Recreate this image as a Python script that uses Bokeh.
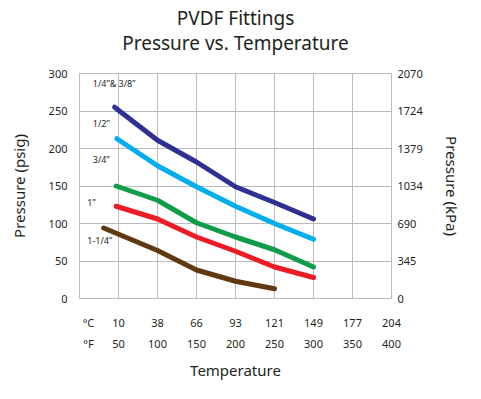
from bokeh.plotting import figure
from bokeh.models import (Range1d, LinearAxis, FixedTicker, ColumnDataSource)
from bokeh.core.properties import value
from bokeh.embed import file_html
from bokeh.resources import INLINE

FONT = "Noto Sans"
TXT = "#231f20"

# ---- data (psig vs temperature in °F) ----
x_14_38 = [45, 100, 150, 200, 250, 300]
y_14_38 = [255, 211, 182, 149, 128, 106]
x_12 = [48, 100, 150, 200, 250, 300]
y_12 = [213, 177, 149, 123, 100, 79]
x_34 = [47, 100, 150, 200, 250, 300]
y_34 = [150, 131, 101, 82, 65, 42]
x_1 = [47, 100, 150, 200, 250, 300]
y_1 = [123, 106, 82, 63, 42, 28]
x_114 = [31, 100, 150, 200, 250]
y_114 = [94, 64, 38, 23, 13]

series_names = ["1/4”& 3/8”", "1/2”", "3/4”", "1”", "1-1/4”"]
series_colors = ["#2e3192", "#00aeef", "#0f9d49", "#ed1c24", "#603913"]
label_x = [17, 17, 17, 10, 10]
label_y = [287, 234, 185, 128, 77]

psig_ticks = [0, 50, 100, 150, 200, 250, 300]
kpa_ticks = [0, 345, 690, 1034, 1379, 1724, 2070]
f_ticks = [50, 100, 150, 200, 250, 300, 350, 400]
c_labels = ["10", "38", "66", "93", "121", "149", "177", "204"]
f_labels = ["50", "100", "150", "200", "250", "300", "350", "400"]
unit_tick = 11.5

p = figure(frame_width=312, frame_height=225, output_backend="svg", toolbar_location=None,
           x_range=Range1d(0, 400), y_range=Range1d(0, 300),
           x_axis_location=None, y_axis_location=None,
           min_border_left=79, min_border_right=88, min_border_top=73, min_border_bottom=99)
p.background_fill_color = "white"
p.border_fill_color = "white"
p.outline_line_color = "#bbbbbb"
p.outline_line_width = 1

p.xgrid.ticker = FixedTicker(ticks=f_ticks)
p.ygrid.ticker = FixedTicker(ticks=psig_ticks)
for g in (p.xgrid, p.ygrid):
    g.grid_line_color = "#bbbbbb"
    g.grid_line_width = 1

p.extra_y_ranges = {"kpa": Range1d(0, 2070)}

def style_axis(ax, fs="11px"):
    ax.axis_line_color = None
    ax.major_tick_line_color = None
    ax.minor_tick_line_color = None
    ax.major_tick_out = 0
    ax.major_tick_in = 0
    ax.major_label_text_font = FONT
    ax.major_label_text_font_size = fs
    ax.major_label_text_color = TXT
    ax.axis_label_text_font = FONT
    ax.axis_label_text_font_style = "normal"
    ax.axis_label_text_font_size = "15px"
    ax.axis_label_text_color = TXT

left = LinearAxis(ticker=FixedTicker(ticks=psig_ticks), axis_label="Pressure (psig)")
style_axis(left)
left.major_label_standoff = 12
left.axis_label_standoff = 17
p.add_layout(left, "left")

right = LinearAxis(y_range_name="kpa", ticker=FixedTicker(ticks=kpa_ticks), axis_label="Pressure (kPa)")
style_axis(right)
right.major_label_standoff = 6
right.axis_label_standoff = 16
right.axis_label_orientation = "vertical"
p.add_layout(right, "right")

c_over = {unit_tick: "°C"}
f_over = {unit_tick: "°F"}
for t, c, f in zip(f_ticks, c_labels, f_labels):
    c_over[t] = c
    f_over[t] = f

c_axis = LinearAxis(ticker=FixedTicker(ticks=[unit_tick] + f_ticks))
style_axis(c_axis)
c_axis.major_label_overrides = c_over
c_axis.major_label_standoff = 16
p.add_layout(c_axis, "below")

f_axis = LinearAxis(ticker=FixedTicker(ticks=[unit_tick] + f_ticks), axis_label="Temperature")
style_axis(f_axis)
f_axis.major_label_overrides = f_over
f_axis.major_label_standoff = 3
f_axis.axis_label_standoff = 6
p.add_layout(f_axis, "below")

# two-line title drawn as labels of tick-less axes above the plot
for txt, so in (("Pressure vs. Temperature", 18), ("PVDF Fittings", -4)):
    t_axis = LinearAxis(ticker=FixedTicker(ticks=[]), axis_label=txt)
    style_axis(t_axis)
    t_axis.major_label_standoff = 0
    t_axis.axis_label_text_font_size = "19px"
    t_axis.axis_label_standoff = so
    p.add_layout(t_axis, "above")

xs = [x_14_38, x_12, x_34, x_1, x_114]
ys = [y_14_38, y_12, y_34, y_1, y_114]
for xv, yv, col in zip(xs, ys, series_colors):
    p.line(xv, yv, line_color=col, line_width=5, line_join="round", line_cap="round")

src = ColumnDataSource(dict(x=label_x, y=label_y, t=series_names))
p.text(x="x", y="y", text="t", source=src, text_font=value(FONT), text_font_size="9px",
       text_color=TXT, text_baseline="middle", text_align="left")

open("out.html", "w").write(file_html(p, INLINE))
